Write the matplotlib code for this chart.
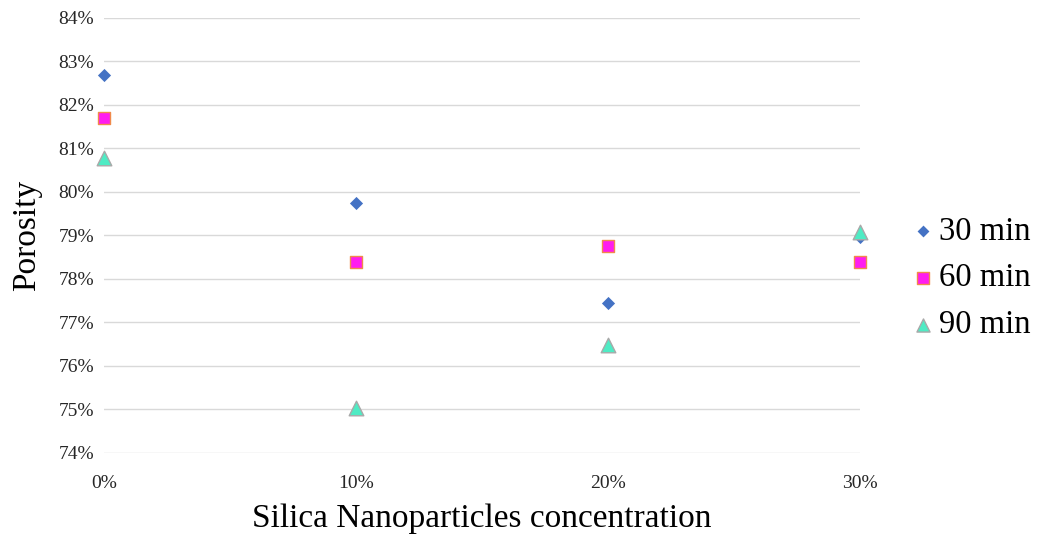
import matplotlib
matplotlib.use("Agg")
import matplotlib.pyplot as plt
from matplotlib.ticker import FuncFormatter

plt.rcParams['font.family'] = ['Liberation Serif', 'DejaVu Serif']

# data
concentration = [0, 10, 20, 30]
porosity_30 = [82.7, 79.75, 77.45, 78.97]
porosity_60 = [81.7, 78.4, 78.76, 78.4]
porosity_90 = [80.78, 75.03, 76.48, 79.08]
series_labels = ["30 min", "60 min", "90 min"]

fig = plt.figure(figsize=(10.38, 5.35), dpi=100)
ax = fig.add_axes([0.1002, 0.1533, 0.7283, 0.8131])

ax.scatter(concentration, porosity_30, marker='D', s=45, color='#4472C4',
           linewidths=0, label=series_labels[0], zorder=3, clip_on=False)
ax.scatter(concentration, porosity_60, marker='s', s=80, facecolor='#FF1CF0',
           edgecolor='#F08A4B', linewidths=1.0, label=series_labels[1], zorder=3, clip_on=False)
ax.scatter(concentration, porosity_90, marker='^', s=110, facecolor='#4FEBC4',
           edgecolor='#A9A9A9', linewidths=1.0, label=series_labels[2], zorder=3, clip_on=False)

ax.set_xlim(0, 30)
ax.set_ylim(74, 84)
ax.set_xticks(concentration)
ax.set_yticks(range(74, 85))
ax.xaxis.set_major_formatter(FuncFormatter(lambda v, p: f"{v:.0f}%"))
ax.yaxis.set_major_formatter(FuncFormatter(lambda v, p: f"{v:.0f}%"))
ax.tick_params(axis='both', length=0, labelsize=14, colors='#262626')
ax.tick_params(axis='x', pad=16)
ax.tick_params(axis='y', pad=7)
ax.grid(axis='y', color='#D9D9D9', linewidth=1.0)
ax.set_axisbelow(True)
for s in ax.spines.values():
    s.set_visible(False)

ax.set_xlabel("Silica Nanoparticles concentration", fontsize=24, labelpad=8)
ax.set_ylabel("Porosity", fontsize=24)
ax.yaxis.set_label_coords(-0.082, 0.5)

ax.legend(loc='center left', bbox_to_anchor=(1.044, 0.402), frameon=False,
          fontsize=23.5, handletextpad=0.0, labelspacing=0.5, markerscale=0.9,
          handlelength=1.0, borderaxespad=0)

fig.savefig("out.png", dpi=100)
